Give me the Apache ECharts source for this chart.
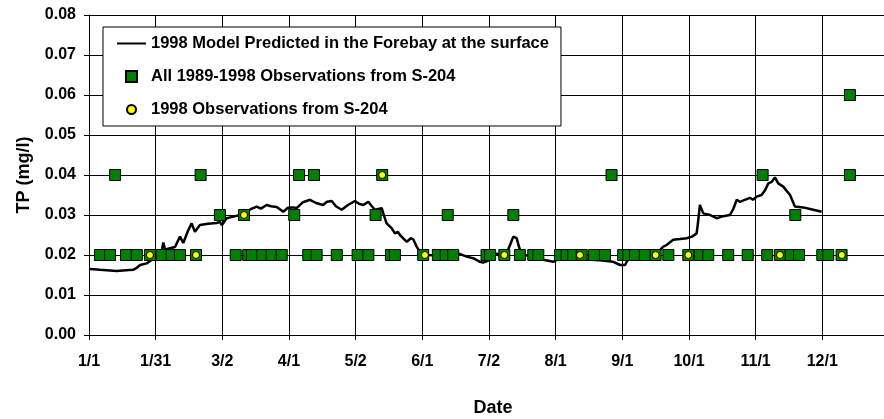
<!DOCTYPE html>
<html>
<head>
<meta charset="utf-8">
<script src="https://cdn.jsdelivr.net/npm/echarts@6/dist/echarts.min.js"></script>
<style>
  html, body { margin: 0; padding: 0; background: #fff; }
  #main { width: 884px; height: 419px; }
</style>
</head>
<body>
<div id="main"></div>
<script>
// x values are days since 1/1/1998
const tickLabels = ['1/1', '1/31', '3/2', '4/1', '5/2', '6/1', '7/2', '8/1', '9/1', '10/1', '11/1', '12/1'];

// model line
const modelDays = [0.5, 5.0, 12.6, 16.9, 20.1, 21.8, 23.3, 26.3, 28.6, 30.9, 32.8, 33.9, 34.7, 36.9, 39.2, 41.5, 43.0, 45.1, 46.8, 48.3,
  50.6, 54.3, 58.2, 59.7, 60.6, 62.8, 65.8, 68.9, 71.9, 73.9, 76.5, 78.4, 81.0, 83.0, 85.6, 88.6, 90.7, 93.2, 94.7, 97.6,
  100.8, 103.5, 106.8, 108.5, 110.7, 112.6, 115.2, 118.1, 121.3, 123.1, 125.1, 127.4, 129.0, 130.4, 133.5, 134.2, 135.7, 138.0, 139.5, 140.9,
  141.8, 144.9, 146.8, 147.9, 149.4, 150.9, 154.0, 160.1, 165.5, 168.4, 172.2, 175.2, 178.3, 179.8, 182.9, 185.9, 187.4, 190.1, 192.0, 193.5,
  195.0, 196.5, 198.8, 203.4, 207.2, 211.7, 213.3, 219.3, 223.9, 228.4, 233.0, 239.1, 242.2, 244.5, 245.2, 246.7, 249.7, 253.5, 258.9, 261.9,
  263.4, 266.4, 269.5, 272.5, 275.0, 277.1, 277.7, 278.6, 280.1, 283.2, 286.2, 288.6, 292.3, 293.8, 295.4, 296.8, 299.1, 301.4, 302.8, 304.5,
  306.7, 308.3, 309.8, 311.4, 312.8, 314.3, 316.6, 319.7, 321.9, 325.7, 330.3, 334.1];
const modelTP = [0.0165, 0.0163, 0.0160, 0.0162, 0.0163, 0.0168, 0.0175, 0.0179, 0.0188, 0.0190, 0.0200, 0.0231, 0.0213, 0.0217, 0.0220, 0.0246, 0.0230, 0.0260, 0.0279, 0.0258,
  0.0275, 0.0278, 0.0280, 0.0283, 0.0275, 0.0292, 0.0296, 0.0300, 0.0308, 0.0315, 0.0321, 0.0316, 0.0325, 0.0322, 0.0320, 0.0308, 0.0318, 0.0319, 0.0317, 0.0332,
  0.0338, 0.0330, 0.0325, 0.0333, 0.0335, 0.0322, 0.0313, 0.0325, 0.0335, 0.0328, 0.0325, 0.0333, 0.0322, 0.0313, 0.0317, 0.0304, 0.0279, 0.0267, 0.0254, 0.0258,
  0.0250, 0.0233, 0.0242, 0.0239, 0.0221, 0.0208, 0.0200, 0.0199, 0.0202, 0.0204, 0.0196, 0.0192, 0.0183, 0.0181, 0.0188, 0.0204, 0.0196, 0.0200, 0.0225, 0.0246,
  0.0242, 0.0213, 0.0200, 0.0195, 0.0188, 0.0183, 0.0188, 0.0192, 0.0190, 0.0188, 0.0187, 0.0183, 0.0175, 0.0175, 0.0183, 0.0196, 0.0200, 0.0202, 0.0204, 0.0221,
  0.0225, 0.0238, 0.0240, 0.0242, 0.0246, 0.0254, 0.0280, 0.0325, 0.0304, 0.0300, 0.0292, 0.0296, 0.0300, 0.0315, 0.0338, 0.0333, 0.0338, 0.0343, 0.0338, 0.0346,
  0.0350, 0.0362, 0.0379, 0.0383, 0.0394, 0.0379, 0.0371, 0.0350, 0.0321, 0.0319, 0.0313, 0.0308];

// all 1989-1998 observations
const allDays = [347.0,
  11.9, 50.9, 95.8, 102.6, 133.7, 238.3, 307.2, 347.0,
  59.7, 70.7, 93.6, 130.7, 163.6, 193.5, 322.1,
  5.0, 9.6, 16.9, 21.8, 27.8, 33.2, 37.7, 41.5, 48.8, 66.9, 72.6, 74.3, 79.0, 83.3, 87.9, 100.0, 103.8, 113.0, 122.5, 127.4,
  137.7, 139.5, 152.4, 159.1, 162.7, 166.1, 181.3, 182.9, 189.4, 196.5, 202.6, 204.9, 214.8, 217.8, 220.8, 224.7, 230.3, 235.3,
  243.6, 245.9, 249.0, 253.5, 258.4, 264.2, 273.3, 278.6, 282.4, 291.5, 300.4, 309.3, 315.1, 320.0, 323.8, 334.4, 337.1, 343.2];
const allTP = [0.06,
  0.04, 0.04, 0.04, 0.04, 0.04, 0.04, 0.04, 0.04,
  0.03, 0.03, 0.03, 0.03, 0.03, 0.03, 0.03,
  0.02, 0.02, 0.02, 0.02, 0.02, 0.02, 0.02, 0.02, 0.02, 0.02, 0.02, 0.02, 0.02, 0.02, 0.02, 0.02, 0.02, 0.02, 0.02, 0.02,
  0.02, 0.02, 0.02, 0.02, 0.02, 0.02, 0.02, 0.02, 0.02, 0.02, 0.02, 0.02, 0.02, 0.02, 0.02, 0.02, 0.02, 0.02,
  0.02, 0.02, 0.02, 0.02, 0.02, 0.02, 0.02, 0.02, 0.02, 0.02, 0.02, 0.02, 0.02, 0.02, 0.02, 0.02, 0.02, 0.02];

// 1998 observations
const obsDays = [27.8, 48.8, 70.7, 133.7, 153.2, 189.4, 223.9, 258.4, 273.3, 315.1, 343.3];
const obsTP = [0.02, 0.02, 0.03, 0.04, 0.02, 0.02, 0.02, 0.02, 0.02, 0.02, 0.02];

const STEP = 30.4;
const font = 'Arial, "Liberation Sans", sans-serif';

// legend icons padded out to the 29x11 item box so they keep their shape
const squareIcon = 'path://M0,0M29,11M9,0L20,0L20,11L9,11Z';
const dotIcon = 'path://M0,0M29,11M10,5.5A4.5,4.5,0,1,0,19,5.5A4.5,4.5,0,1,0,10,5.5Z';

const myChart = echarts.init(document.getElementById('main'));

const zip = (xs, ys) => xs.map((x, i) => [x, ys[i]]);

const option = {
  animation: false,
  grid: { left: 89, top: 15, right: -1, bottom: 84, outerBoundsMode: 'none', containLabel: false },
  legend: {
    orient: 'vertical',
    left: 103,
    top: 27,
    padding: [8, 12, 8, 13],
    itemGap: 16,
    itemWidth: 29,
    itemHeight: 11,
    itemTextGap: 4,
    backgroundColor: '#fff',
    borderColor: '#000',
    borderWidth: 1,
    selectedMode: false,
    textStyle: { fontFamily: font, fontWeight: 'bold', fontSize: 16.5, color: '#000' },
    data: [
      { name: '1998 Model Predicted in the Forebay at the surface', itemStyle: { opacity: 0 } },
      { name: 'All 1989-1998 Observations from S-204', icon: squareIcon },
      { name: '1998 Observations from S-204', icon: dotIcon }
    ]
  },
  xAxis: {
    type: 'value',
    min: 0,
    max: 363,
    interval: STEP,
    name: 'Date',
    nameLocation: 'middle',
    nameGap: 64,
    nameTextStyle: { fontFamily: font, fontWeight: 'bold', fontSize: 18, color: '#000', padding: [0, 0, 0, 12] },
    axisLine: { lineStyle: { color: '#000', width: 1 } },
    axisTick: { show: true, length: 5, lineStyle: { color: '#000' } },
    splitLine: { show: true, lineStyle: { color: '#000', width: 1 } },
    axisLabel: {
      margin: 19,
      fontFamily: font, fontWeight: 'bold', fontSize: 16, color: '#000',
      formatter: (v) => {
        const i = Math.round(v / STEP);
        return Math.abs(v - i * STEP) < 0.5 && tickLabels[i] ? tickLabels[i] : '';
      }
    }
  },
  yAxis: {
    type: 'value',
    min: 0,
    max: 0.08,
    interval: 0.01,
    name: 'TP (mg/l)',
    nameLocation: 'middle',
    nameGap: 56,
    nameTextStyle: { fontFamily: font, fontWeight: 'bold', fontSize: 18, color: '#000' },
    axisLine: { show: true, lineStyle: { color: '#000', width: 1 } },
    axisTick: { show: true, length: 5, lineStyle: { color: '#000' } },
    splitLine: { show: true, lineStyle: { color: '#000', width: 1 } },
    axisLabel: {
      margin: 13,
      fontFamily: font, fontWeight: 'bold', fontSize: 16, color: '#000',
      formatter: (v) => v.toFixed(2)
    }
  },
  series: [
    {
      name: '1998 Model Predicted in the Forebay at the surface',
      type: 'line',
      data: zip(modelDays, modelTP),
      symbol: 'none',
      showSymbol: false,
      lineStyle: { color: '#000', width: 2.5 },
      itemStyle: { color: '#000' },
      z: 2
    },
    {
      name: 'All 1989-1998 Observations from S-204',
      type: 'scatter',
      data: zip(allDays, allTP),
      symbol: 'rect',
      symbolSize: 11,
      itemStyle: { color: '#008000', borderColor: '#000', borderWidth: 1, opacity: 1 },
      z: 3
    },
    {
      name: '1998 Observations from S-204',
      type: 'scatter',
      data: zip(obsDays, obsTP),
      symbol: 'circle',
      symbolSize: 7,
      itemStyle: { color: '#ffff00', borderColor: '#000', borderWidth: 1, opacity: 1 },
      z: 4
    }
  ]
};

myChart.setOption(option);
</script>
</body>
</html>
